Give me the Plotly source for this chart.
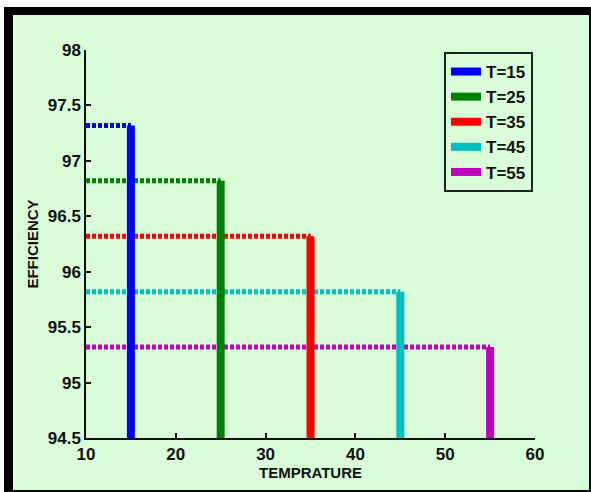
import plotly.graph_objects as go

# ---- data ----
temps = [15, 25, 35, 45, 55]
efficiency = [97.32, 96.82, 96.32, 95.82, 95.32]
labels = ["T=15", "T=25", "T=35", "T=45", "T=55"]
colors = ["#0000ff", "#008000", "#ff0000", "#00bfbf", "#bf00bf"]
x_min, x_max = 10, 60
y_min, y_max = 94.5, 98

W, H = 591, 492
L, R, T, B = 86, 56, 50, 54
pw, ph = W - L - R, H - T - B

def px(x):
    return (x - L) / pw

def py(y):
    return (H - B - y) / ph

FONT = "Liberation Sans, Arial, sans-serif"

fig = go.Figure()
for t, e, lab, c in zip(temps, efficiency, labels, colors):
    fig.add_trace(go.Scatter(x=[x_min, t], y=[e, e], mode="lines",
                             line=dict(color=c, width=5, dash="4px,2px"),
                             showlegend=False, hoverinfo="skip"))
for t, e, lab, c in zip(temps, efficiency, labels, colors):
    fig.add_trace(go.Scatter(x=[t, t], y=[y_min, e], mode="lines",
                             line=dict(color=c, width=8), name=lab))

shapes = [
    dict(type="rect", xref="paper", yref="paper", x0=px(4), x1=px(591), y0=py(7), y1=py(492),
         fillcolor="black", line=dict(width=0), layer="below"),
    dict(type="rect", xref="paper", yref="paper", x0=px(13), x1=px(589), y0=py(15), y1=py(490),
         fillcolor="#d9fdd9", line=dict(width=0), layer="below"),
]

axis_common = dict(showgrid=False, zeroline=False, showline=True, linecolor="#111", linewidth=1.5,
                   ticks="inside", ticklen=5, tickwidth=1.5, tickcolor="#111",
                   tickfont=dict(family=FONT, size=17, color="#111", weight="bold"))

fig.update_layout(
    width=W, height=H,
    margin=dict(l=L, r=R, t=T, b=B),
    paper_bgcolor="white", plot_bgcolor="rgba(0,0,0,0)",
    shapes=shapes,
    xaxis=dict(range=[x_min, x_max], dtick=10, tick0=10,
               title=dict(text="TEMPRATURE", font=dict(family=FONT, size=15, color="#111", weight="bold"), standoff=4),
               **axis_common),
    yaxis=dict(range=[y_min, y_max], dtick=0.5, tick0=94.5,
               title=dict(text="EFFICIENCY", font=dict(family=FONT, size=15, color="#111", weight="bold"), standoff=6),
               **axis_common),
    legend=dict(x=px(444), y=py(52), xanchor="left", yanchor="top",
                bgcolor="rgba(0,0,0,0)", bordercolor="#222", borderwidth=2,
                font=dict(family=FONT, size=17, color="#111", weight="bold"),
                tracegroupgap=0),
    showlegend=True,
)

fig.write_html("out.html", config={"displayModeBar": False},
               post_script="document.body.style.margin='0';document.body.style.padding='0';")
